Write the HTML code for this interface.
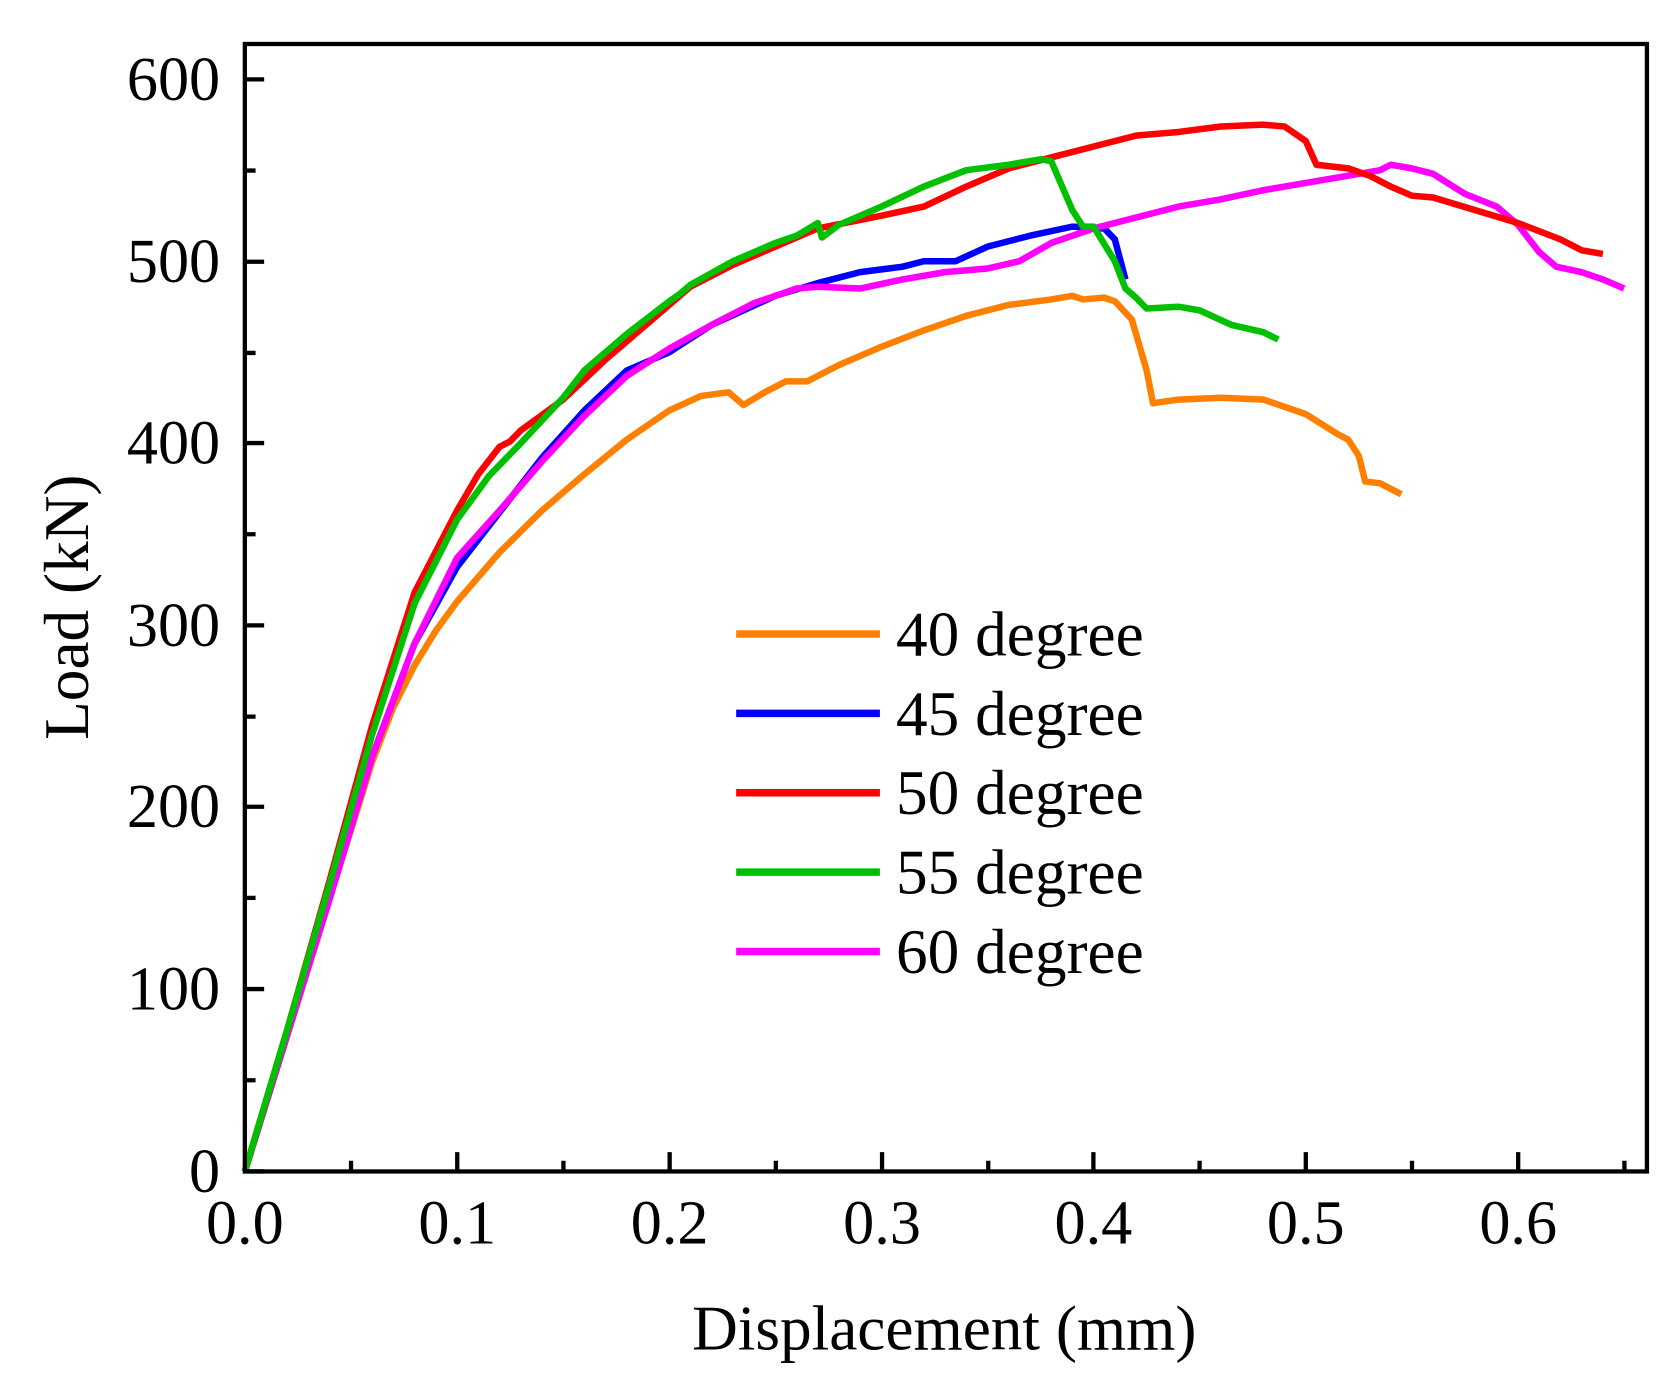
<!DOCTYPE html>
<html><head><meta charset="utf-8"><style>html,body{margin:0;padding:0;background:#fff}svg{display:block}</style></head>
<body>
<svg width="1674" height="1386" viewBox="0 0 1560 1292" xmlns="http://www.w3.org/2000/svg" font-family="Liberation Serif, serif">
<rect width="1560" height="1292" fill="#fff"/>
<g fill="none" stroke-width="6.5" stroke-linejoin="round" stroke-linecap="butt" transform="translate(228,1092) scale(1978,-1.697)">
<polyline vector-effect="non-scaling-stroke" stroke="#FF8000" points="0,0 0.02,75 0.04,150 0.06,225 0.07,255 0.08,278 0.09,297 0.1,313 0.12,340 0.14,363 0.16,383 0.18,402 0.2,418 0.215,426 0.228,428 0.235,421 0.245,428 0.255,434 0.265,434 0.28,443 0.3,453 0.32,462 0.34,470 0.36,476 0.38,479 0.39,481 0.395,479 0.405,480 0.41,478 0.418,468 0.425,440 0.428,422 0.44,424 0.46,425 0.48,424 0.5,416 0.515,405 0.52,402 0.525,393 0.528,379 0.535,378 0.545,372"/>
<polyline vector-effect="non-scaling-stroke" stroke="#0000FF" points="0,0 0.02,75 0.04,150 0.06,228 0.08,290 0.1,332 0.12,362 0.14,392 0.16,418 0.18,440 0.2,450 0.22,465 0.25,481 0.27,488 0.29,494 0.31,497 0.32,500 0.335,500 0.35,508 0.37,514 0.39,519 0.405,518 0.41,512 0.415,490"/>
<polyline vector-effect="non-scaling-stroke" stroke="#FF00FF" points="0,0 0.02,75 0.04,150 0.06,228 0.08,290 0.1,337 0.12,363 0.14,390 0.16,415 0.18,437 0.2,452 0.22,465 0.24,477 0.26,485 0.27,486 0.29,485 0.31,490 0.33,494 0.35,496 0.365,500 0.38,510 0.4,518 0.42,524 0.44,530 0.46,534 0.48,539 0.5,543 0.52,547 0.535,550 0.54,553 0.55,551 0.56,548 0.575,537 0.59,530 0.6,520 0.61,505 0.618,497 0.63,494 0.64,490 0.65,485"/>
<polyline vector-effect="non-scaling-stroke" stroke="#FF0000" points="0,0 0.02,78 0.04,160 0.06,245 0.08,318 0.1,363 0.11,383 0.12,398 0.125,401 0.13,407 0.15,424 0.17,446 0.19,466 0.21,486 0.23,498 0.25,508 0.27,518 0.3,525 0.32,530 0.34,541 0.36,551 0.38,557 0.4,563 0.42,569 0.44,571 0.46,574 0.48,575 0.49,574 0.5,566 0.505,553 0.52,551 0.53,547 0.54,541 0.55,536 0.56,535 0.58,528 0.6,521 0.62,512 0.63,506 0.64,504"/>
<polyline vector-effect="non-scaling-stroke" stroke="#00C000" points="0,0 0.02,78 0.04,158 0.06,240 0.08,312 0.1,358 0.115,382 0.13,400 0.15,425 0.16,440 0.18,460 0.2,478 0.205,482 0.21,487 0.23,500 0.25,510 0.26,514 0.27,521 0.272,513 0.28,520 0.3,530 0.32,541 0.34,550 0.36,553 0.375,556 0.38,555 0.39,528 0.395,519 0.4,519 0.41,500 0.415,485 0.42,480 0.425,474 0.44,475 0.45,473 0.465,465 0.48,461 0.487,457"/>
</g>
<g stroke="#000" stroke-width="4" fill="none">
<rect x="228" y="41" width="1307" height="1051"/>
<path d="M228,1092h18M228,922h18M228,752h18M228,583h18M228,413h18M228,244h18M228,74h18 M228,1007h10M228,837h10M228,668h10M228,498h10M228,329h10M228,159h10"/>
<path d="M426,1092v-18M624,1092v-18M822,1092v-18M1019,1092v-18M1217,1092v-18M1415,1092v-18 M327,1092v-10M525,1092v-10M723,1092v-10M921,1092v-10M1118,1092v-10M1316,1092v-10M1514,1092v-10"/>
</g>
<g font-size="58" fill="#000" text-anchor="end">
<text x="205" y="1111">0</text><text x="205" y="941">100</text><text x="205" y="771">200</text><text x="205" y="602">300</text><text x="205" y="432">400</text><text x="205" y="263">500</text><text x="205" y="93">600</text>
</g>
<g font-size="58" fill="#000" text-anchor="middle">
<text x="228" y="1159">0.0</text><text x="426" y="1159">0.1</text><text x="624" y="1159">0.2</text><text x="822" y="1159">0.3</text><text x="1019" y="1159">0.4</text><text x="1217" y="1159">0.5</text><text x="1415" y="1159">0.6</text>
<text x="880" y="1258" font-size="59">Displacement (mm)</text>
<text transform="translate(82,566) rotate(-90)" font-size="59">Load (kN)</text>
</g>
<g stroke-width="7">
<line x1="686" y1="591" x2="820" y2="591" stroke="#FF8000"/>
<line x1="686" y1="665" x2="820" y2="665" stroke="#0000FF"/>
<line x1="686" y1="739" x2="820" y2="739" stroke="#FF0000"/>
<line x1="686" y1="813" x2="820" y2="813" stroke="#00C000"/>
<line x1="686" y1="887" x2="820" y2="887" stroke="#FF00FF"/>
</g>
<g font-size="59" fill="#000">
<text x="835" y="611">40 degree</text><text x="835" y="685">45 degree</text><text x="835" y="759">50 degree</text><text x="835" y="833">55 degree</text><text x="835" y="907">60 degree</text>
</g>
</svg>
</body></html>
